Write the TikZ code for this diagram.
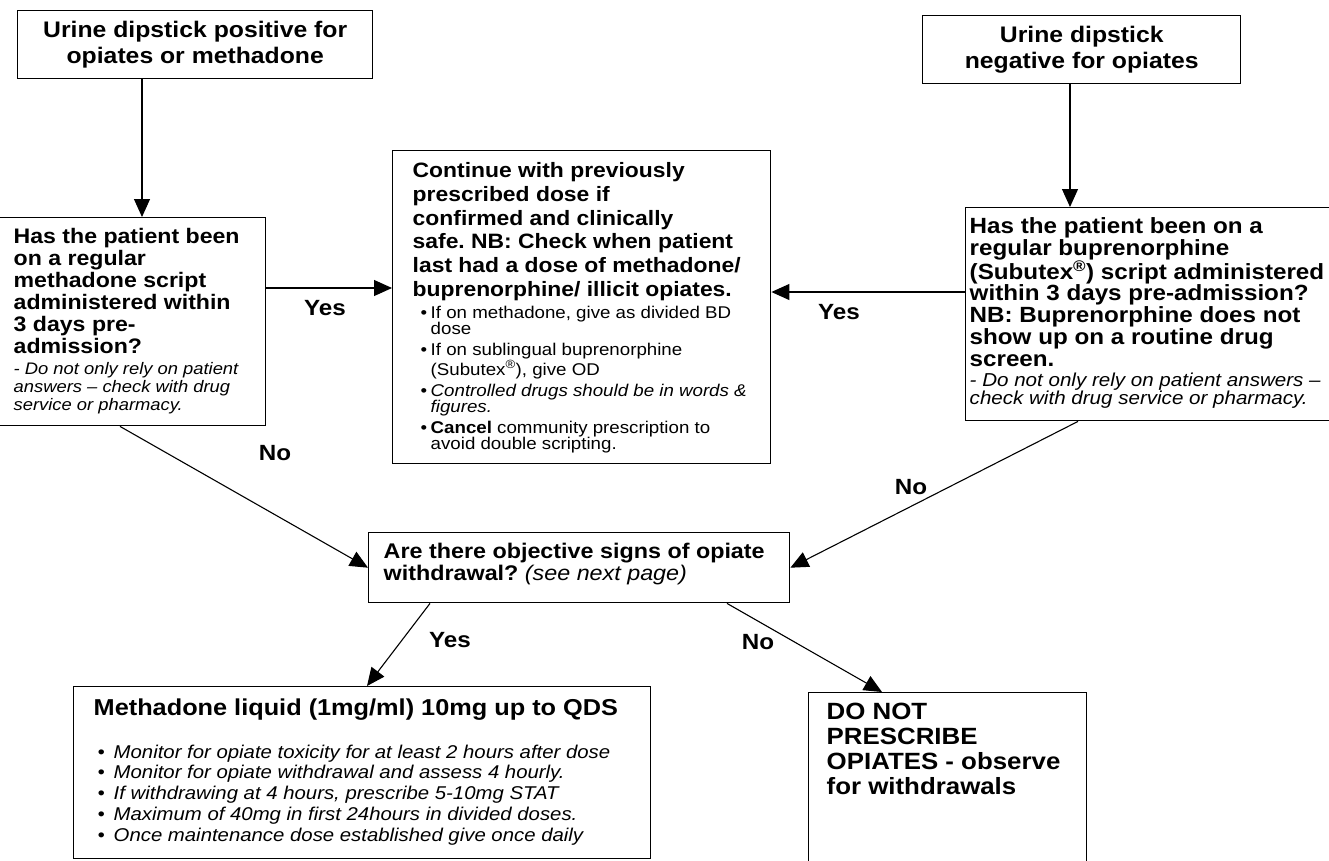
\documentclass[tikz,border=0pt]{standalone}
\usepackage{fontspec}
\setmainfont{Liberation Sans}[FakeStretch=1.1]
\usetikzlibrary{arrows.meta}

\newcommand{\bitem}[2]{\par\hangindent=#2\hangafter=1\noindent\makebox[#2][l]{\hspace*{#1}\textbullet}}

\tikzset{
    box/.style={draw, line width=1.4pt, anchor=north west, inner ysep=0pt},
    lbl/.style={font=\fontsize{22}{22}\selectfont\bfseries},
    arr/.style={line width=1.1pt, -{Triangle[length=18pt,width=16pt]}}
}

\begin{document}
\frenchspacing
\begin{tikzpicture}[x=1pt,y=-1pt]
        \useasboundingbox (0,0) rectangle (1329,860);

        % dipstick results
        \node[box, minimum width=355pt, minimum height=68pt, align=center, font=\fontsize{22.5}{26}\selectfont\bfseries] (pos) at (17,10) {Urine dipstick positive for\\opiates or methadone};
        \node[box, minimum width=318pt, minimum height=68pt, align=center, font=\fontsize{22.5}{26}\selectfont\bfseries] (neg) at (922,15) {Urine dipstick\\negative for opiates};

        % questions
        \node[box, inner xsep=16pt] (qmeth) at (-3,217) {\parbox[t][208pt][t]{236pt}{\raggedright
            \fontsize{21}{22}\selectfont\bfseries\vspace*{11pt}Has the patient been\\on a regular\\methadone script\\administered within\\3 days pre-\\admission?\par
            \fontsize{16.7}{18.3}\selectfont\mdseries\itshape\vspace{2pt} - Do not only rely on patient\\answers -- check with drug\\service or pharmacy.\par}};
        \node[box, inner xsep=4pt] (qbup) at (965,207) {\parbox[t][213pt][t]{372pt}{\raggedright
            \fontsize{22}{21.7}\selectfont\bfseries\vspace*{10pt}Has the patient been on a\\regular buprenorphine\\(Subutex\textsuperscript{\textregistered}) script administered\\within 3 days pre-admission?\\NB: Buprenorphine does not\\show up on a routine drug\\screen.\par
            \fontsize{18.7}{18.3}\selectfont\mdseries\itshape\vspace{2pt} - Do not only rely on patient answers --\\check with drug service or pharmacy.\par}};

        % continue
        \node[box, inner xsep=20pt] (cont) at (392,150) {\parbox[t][313pt][t]{338pt}{\raggedright
            \fontsize{20.8}{23.7}\selectfont\bfseries\vspace*{12pt}Continue with previously\\prescribed dose if\\confirmed and clinically\\safe. NB: Check when patient\\last had a dose of methadone/\\buprenorphine/ illicit opiates.\par
            \fontsize{17}{16}\selectfont\mdseries\parskip=5pt
            \bitem{8pt}{18pt}If on methadone, give as divided BD\newline dose
            \bitem{8pt}{18pt}If on sublingual buprenorphine\newline (Subutex\textsuperscript{\textregistered}), give OD
            \bitem{8pt}{18pt}\textit{Controlled drugs should be in words \&\newline figures.}
            \bitem{8pt}{18pt}\textbf{Cancel} community prescription to\newline avoid double scripting.\par}};

        \node[box, inner xsep=15pt] (quest) at (368,532) {\parbox[t][70pt][t]{391pt}{\raggedright
            \fontsize{21.2}{22}\selectfont\bfseries\vspace*{10pt}Are there objective signs of opiate\\withdrawal? {\mdseries\itshape (see next page)}\par}};

        % outcomes
        \node[box, inner xsep=20pt] (meth) at (73,686) {\parbox[t][172pt][t]{537pt}{\raggedright
            \fontsize{23}{24}\selectfont\bfseries\vspace*{12pt}Methadone liquid (1mg/ml) 10mg up to QDS\par
            \vspace{22pt}\fontsize{18.5}{20.8}\selectfont\mdseries\itshape
            \bitem{4pt}{20pt}Monitor for opiate toxicity for at least 2 hours after dose
            \bitem{4pt}{20pt}Monitor for opiate withdrawal and assess 4 hourly.
            \bitem{4pt}{20pt}If withdrawing at 4 hours, prescribe 5-10mg STAT
            \bitem{4pt}{20pt}Maximum of 40mg in first 24hours in divided doses.
            \bitem{4pt}{20pt}Once maintenance dose established give once daily\par}};
        \node[box, inner xsep=18pt] (donot) at (808,692) {\parbox[t][200pt][t]{242pt}{\raggedright
            \fontsize{23.5}{25}\selectfont\bfseries\vspace*{10pt}DO NOT\\PRESCRIBE\\OPIATES - observe\\for withdrawals\par}};

        % labels
        \node[lbl] (yesl) at (325,308) {Yes};
        \node[lbl] (yesr) at (839,312) {Yes};
        \node[lbl] (nol) at (275,453) {No};
        \node[lbl] (nor) at (911,487) {No};
        \node[lbl] (yesd) at (450,640) {Yes};
        \node[lbl] (nod) at (758,642) {No};

        \draw[arr] (pos.south -| 142,0) -- (qmeth.north -| 142,0);
        \draw[arr] (neg.south -| 1070,0) -- (qbup.north -| 1070,0);
        \draw[arr] (qmeth.east |- 0,288) -- (cont.west |- 0,288);
        \draw[arr] (qbup.west |- 0,292) -- (cont.east |- 0,292);
        \draw[arr] (qmeth.south -| 120,0) -- (quest.west);
        \draw[arr] (qbup.south -| 1078,0) -- (quest.east);
        \draw[arr] (quest.south -| 430,0) -- (meth.north -| 367,0);
        \draw[arr] (quest.south -| 727,0) -- (donot.north -| 882,0);
    \end{tikzpicture}
\end{document}
